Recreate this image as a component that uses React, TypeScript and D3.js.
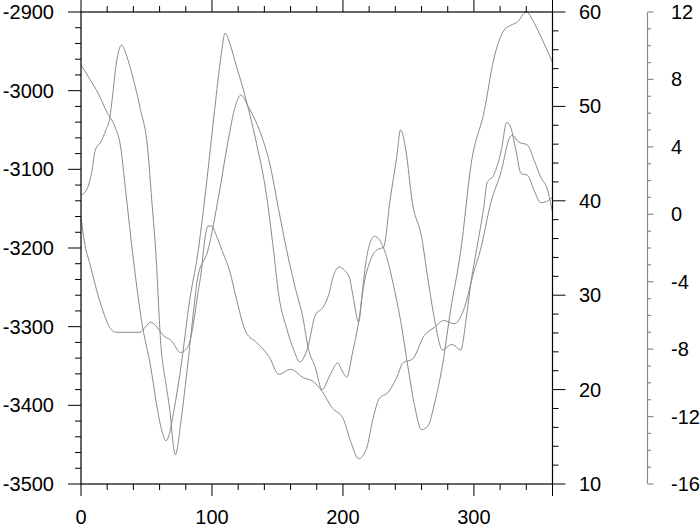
import React from 'react';
import * as d3 from 'd3';

// longitude (deg) and value pairs
const lonA = [0, 7, 13, 20, 26, 30, 34, 40, 47, 53, 58, 62, 65, 67, 71, 76, 83, 89, 95, 102, 107, 110, 114, 118, 124, 134, 141, 147, 151, 157, 163, 167, 173, 179, 185, 189, 193, 197, 201, 205, 208, 212, 215, 218, 221, 224, 228, 234, 238, 244, 250, 255, 260, 265, 270, 276, 282, 290, 298, 308, 315, 323, 328, 333, 340, 346, 353, 360];
const valA = [-2967, -2986, -3003, -3028, -3046, -3069, -3126, -3215, -3300, -3349, -3402, -3434, -3445, -3439, -3406, -3355, -3266, -3209, -3130, -3025, -2955, -2927, -2942, -2965, -2999, -3067, -3126, -3203, -3260, -3302, -3332, -3345, -3327, -3285, -3275, -3260, -3234, -3224, -3228, -3238, -3264, -3294, -3253, -3213, -3192, -3185, -3190, -3215, -3243, -3292, -3355, -3403, -3431, -3426, -3397, -3349, -3281, -3203, -3092, -3025, -2961, -2923, -2917, -2913, -2900, -2914, -2938, -2964];

const lonB = [0, 4, 8, 11, 15, 19, 22, 24, 27, 31, 34, 38, 45, 51, 54, 57, 61, 65, 68, 70, 72, 73, 76, 82, 86, 89, 97, 105, 112, 118, 122, 128, 137, 144, 151, 157, 163, 170, 173, 179, 184, 190, 196, 199, 203, 207, 212, 216, 221, 226, 231, 236, 241, 244, 248, 253, 260, 265, 270, 276, 283, 290, 294, 298, 302, 308, 310, 315, 321, 325, 328, 332, 336, 341, 346, 351, 355, 360];
const valB = [40.6, 41.1, 42.9, 45.4, 46.2, 47.5, 48.8, 51.0, 54.6, 56.5, 55.7, 53.9, 49.9, 45.4, 40.1, 34.8, 24.7, 20.5, 17.6, 14.7, 13.1, 13.4, 16.3, 23.3, 28.4, 31.8, 34.8, 40.4, 46.1, 50.1, 51.2, 49.9, 47.2, 44.0, 39.0, 34.8, 31.1, 27.2, 24.7, 22.3, 20.0, 21.5, 22.8, 22.1, 21.3, 23.7, 27.2, 31.1, 33.7, 34.8, 35.1, 40.1, 44.6, 47.5, 45.4, 39.8, 36.2, 31.6, 27.4, 24.2, 24.8, 24.2, 27.4, 31.6, 34.8, 39.8, 41.9, 42.7, 45.4, 48.3, 47.8, 45.4, 42.9, 42.7, 41.1, 39.8, 39.9, 40.4];

const lonC = [0, 3, 7, 13, 18, 21, 24, 27, 36, 45, 49, 53, 57, 63, 69, 76, 82, 86, 89, 92, 94, 97, 100, 103, 108, 114, 118, 126, 134, 144, 151, 160, 170, 177, 184, 192, 200, 206, 212, 218, 223, 228, 234, 241, 246, 253, 262, 270, 277, 285, 292, 300, 305, 313, 321, 327, 329, 334, 341, 346, 351, 356, 360];
const valC = [-0.2, -1.8, -3.0, -4.8, -6.0, -6.6, -6.9, -7.0, -7.0, -7.0, -6.7, -6.4, -6.6, -7.2, -7.5, -8.2, -7.8, -6.4, -4.8, -3.3, -1.8, -0.7, -0.7, -1.2, -2.2, -3.5, -4.8, -7.0, -7.6, -8.5, -9.5, -9.2, -9.7, -9.9, -10.5, -11.5, -12.1, -13.5, -14.5, -13.9, -12.1, -10.9, -10.6, -9.7, -8.8, -8.6, -7.2, -6.7, -6.3, -6.5, -5.7, -3.4, -2.1, 0.7, 2.6, 4.5, 4.7, 4.3, 4.1, 3.2, 2.2, 1.5, 0.1];

const xTicks = [0, 100, 200, 300];
const leftTicks = [-3500, -3400, -3300, -3200, -3100, -3000, -2900];
const rightTicks = [10, 20, 30, 40, 50, 60];
const thirdTicks = [-16, -12, -8, -4, 0, 4, 8, 12];

const font = '"Liberation Sans", Arial, Helvetica, sans-serif';

export default function App() {
  const left = 81, right = 552.5, top = 12, bottom = 484;
  const axis3 = 647.5;

  const x = d3.scaleLinear().domain([0, 360]).range([left, right]);
  const yL = d3.scaleLinear().domain([-3500, -2900]).range([bottom, top]);
  const yR = d3.scaleLinear().domain([10, 60]).range([bottom, top]);
  const y3 = d3.scaleLinear().domain([-16, 12]).range([bottom, top]);

  const mk = (lons, vals, y) =>
    d3.line<number>()
      .x((d, i) => x(lons[i]))
      .y(d => y(d))
      .curve(d3.curveMonotoneX)(vals);

  const xMinor = d3.range(0, 361, 20).filter(v => v % 100 !== 0);
  const lMinor = d3.range(-3500, -2899, 20).filter(v => v % 100 !== 0);
  const rMinor = d3.range(10, 61, 2).filter(v => v % 10 !== 0);
  const tMinor = d3.range(-16, 13, 1).filter(v => v % 4 !== 0);

  const grey = '#8a8a8a';

  return (
    <svg width={700} height={528} style={{ position: 'absolute', left: 0, top: 0 }}
      fontFamily={font} fontSize={20}>
      <rect x={0} y={0} width={700} height={528} fill="white" />

      {/* curves */}
      <g fill="none" stroke={grey} strokeWidth={1}>
        <path d={mk(lonA, valA, yL)} />
        <path d={mk(lonB, valB, yR)} />
        <path d={mk(lonC, valC, y3)} />
      </g>

      {/* frame */}
      <rect x={left} y={top} width={right - left} height={bottom - top}
        fill="none" stroke="black" strokeWidth={1.2} />

      {/* bottom + top ticks */}
      <g stroke="black" strokeWidth={1}>
        {xTicks.concat([360]).map(v => (
          <g key={'xb' + v}>
            <line x1={x(v)} x2={x(v)} y1={bottom} y2={bottom + 12} />
            <line x1={x(v)} x2={x(v)} y1={top} y2={top - 12} />
          </g>
        ))}
        {xMinor.map(v => (
          <g key={'xm' + v}>
            <line x1={x(v)} x2={x(v)} y1={bottom} y2={bottom + 6} />
            <line x1={x(v)} x2={x(v)} y1={top} y2={top - 6} />
          </g>
        ))}
        {leftTicks.map(v => (
          <line key={'l' + v} x1={left} x2={left - 13} y1={yL(v)} y2={yL(v)} />
        ))}
        {lMinor.map(v => (
          <line key={'lm' + v} x1={left} x2={left - 6} y1={yL(v)} y2={yL(v)} />
        ))}
        {rightTicks.map(v => (
          <line key={'r' + v} x1={right} x2={right + 13} y1={yR(v)} y2={yR(v)} />
        ))}
        {rMinor.map(v => (
          <line key={'rm' + v} x1={right} x2={right + 6} y1={yR(v)} y2={yR(v)} />
        ))}
      </g>

      {/* third axis */}
      <g stroke={grey} strokeWidth={1.2}>
        <line x1={axis3} x2={axis3} y1={top} y2={bottom} />
        {thirdTicks.map(v => (
          <line key={'t' + v} x1={axis3} x2={axis3 + 6} y1={y3(v)} y2={y3(v)} />
        ))}
        {tMinor.map(v => (
          <line key={'tm' + v} x1={axis3} x2={axis3 + 3.5} y1={y3(v)} y2={y3(v)} />
        ))}
      </g>

      {/* labels */}
      <g fill="black">
        {xTicks.map(v => (
          <text key={'xt' + v} x={x(v)} y={524} textAnchor="middle">{v}</text>
        ))}
        {leftTicks.map(v => (
          <text key={'lt' + v} x={54} y={yL(v) + 7} textAnchor="end">{v}</text>
        ))}
        {rightTicks.map(v => (
          <text key={'rt' + v} x={579} y={yR(v) + 7}>{v}</text>
        ))}
        {thirdTicks.map(v => (
          <text key={'tt' + v} x={671} y={y3(v) + 7}>{v}</text>
        ))}
      </g>
    </svg>
  );
}
